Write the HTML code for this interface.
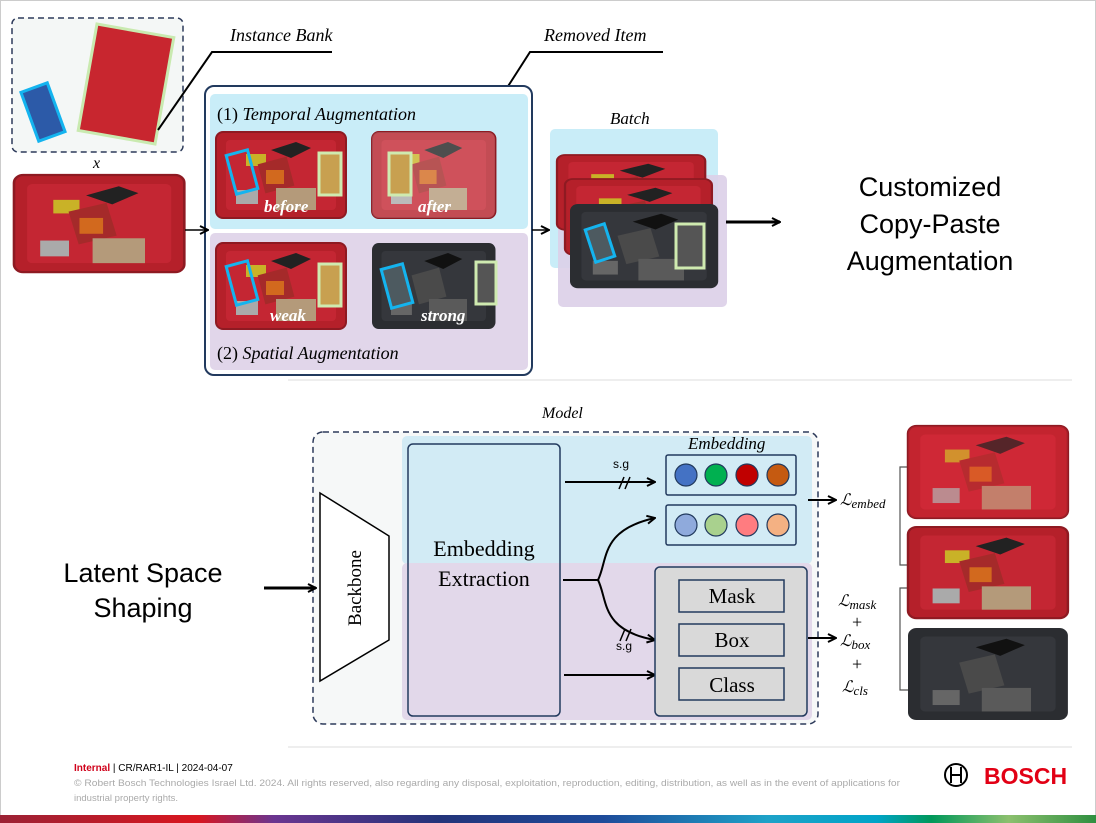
<!DOCTYPE html>
<html><head><meta charset="utf-8"><style>
html,body{margin:0;padding:0;background:#fff}
svg{display:block}
.s{font-family:"Liberation Serif",serif}
.i{font-family:"Liberation Serif",serif;font-style:italic}
.a{font-family:"Liberation Sans",sans-serif}
</style></head><body>
<svg width="1096" height="823" viewBox="0 0 1096 823" xmlns="http://www.w3.org/2000/svg">
<defs>
<marker id="ar" markerWidth="10" markerHeight="10" refX="9" refY="5" orient="auto" markerUnits="userSpaceOnUse"><path d="M1,1 L9,5 L1,9" fill="none" stroke="#000" stroke-width="2"/></marker>
<g id="tray">
<rect x="0" y="0" width="130" height="86" rx="7" fill="#b5202a"/>
<rect x="10" y="8" width="110" height="70" rx="4" fill="#c42633"/>
<rect x="0" y="0" width="130" height="86" rx="7" fill="none" stroke="#8e1a22" stroke-width="2"/>
<path d="M55,18 l25,-8 l15,6 l-20,10z" fill="#222"/>
<rect x="30" y="22" width="20" height="12" fill="#c9b227"/>
<rect x="45" y="28" width="30" height="30" fill="#a52a2a" transform="rotate(-15 60 43)"/>
<rect x="50" y="38" width="18" height="14" fill="#d2691e"/>
<rect x="20" y="58" width="22" height="14" fill="#aaa"/>
<rect x="60" y="56" width="40" height="22" fill="#b49a7a"/>
</g>
<g id="trayd">
<rect x="0" y="0" width="130" height="86" rx="7" fill="#2b2d31"/>
<rect x="10" y="8" width="110" height="70" rx="4" fill="#35373c"/>
<path d="M55,18 l25,-8 l15,6 l-20,10z" fill="#111"/>
<rect x="45" y="28" width="30" height="30" fill="#4a4a4a" transform="rotate(-15 60 43)"/>
<rect x="20" y="58" width="22" height="14" fill="#666"/>
<rect x="60" y="56" width="40" height="22" fill="#5a5a5a"/>
</g>
</defs>
<rect x="0.5" y="0.5" width="1095" height="822" fill="none" stroke="#ccc"/>

<rect x="12" y="18" width="171" height="134" rx="6" fill="#f4f7f6" stroke="#2d3a5a" stroke-width="1.5" stroke-dasharray="6,4"/>
<rect x="29" y="86" width="28" height="52" fill="#2c5aa8" stroke="#14b4ef" stroke-width="3" transform="rotate(-20 43 112)"/>
<rect x="87" y="30" width="78" height="108" fill="#c8262f" stroke="#c9eab0" stroke-width="3" transform="rotate(10 126 84)"/>
<text x="230" y="41" class="i" font-size="18">Instance Bank</text>
<path d="M158,130 L212,52 L332,52" fill="none" stroke="#000" stroke-width="2"/>
<text x="544" y="41" class="i" font-size="18">Removed Item</text>
<path d="M480,130 L530,52 L663,52" fill="none" stroke="#000" stroke-width="2"/>
<text x="93" y="168" class="i" font-size="16">x</text>
<use href="#tray" transform="translate(14,175) scale(1.31,1.13)"/>

<rect x="205" y="86" width="327" height="289" rx="9" fill="#fff" stroke="#223a5e" stroke-width="2"/>
<rect x="210" y="94" width="318" height="135" rx="5" fill="#c9edf8"/>
<rect x="210" y="233" width="318" height="137" rx="5" fill="#e1d6ea"/>
<text x="217" y="120" class="s" font-size="18">(1)  <tspan font-style="italic">Temporal Augmentation</tspan></text>
<text x="217" y="359" class="s" font-size="18">(2)  <tspan font-style="italic">Spatial Augmentation</tspan></text>
<use href="#tray" transform="translate(216,132)"/>
<use href="#tray" transform="translate(372,132) scale(0.95,1)"/>
<rect x="372" y="132" width="123" height="86" rx="7" fill="#fff" opacity="0.2"/>
<use href="#tray" transform="translate(216,243)"/>
<use href="#trayd" transform="translate(372,243) scale(0.95,1)"/>
<rect x="231" y="152" width="22" height="40" fill="none" stroke="#14b4ef" stroke-width="3" transform="rotate(-15 242 172)"/>
<rect x="319" y="153" width="22" height="42" fill="#c8a050" stroke="#cfeab0" stroke-width="3"/>
<rect x="389" y="153" width="22" height="42" fill="#c8a050" stroke="#cfeab0" stroke-width="3"/>
<rect x="231" y="263" width="22" height="40" fill="none" stroke="#14b4ef" stroke-width="3" transform="rotate(-15 242 283)"/>
<rect x="319" y="264" width="22" height="42" fill="#c8a050" stroke="#cfeab0" stroke-width="3"/>
<rect x="386" y="266" width="22" height="40" fill="#4d5a60" stroke="#14b4ef" stroke-width="3" transform="rotate(-15 397 286)"/>
<rect x="476" y="262" width="20" height="42" fill="#555" stroke="#cfeab0" stroke-width="3"/>
<g class="i" font-size="17" font-weight="bold" fill="#fff">
<text x="264" y="212">before</text><text x="418" y="212">after</text>
<text x="270" y="321">weak</text><text x="421" y="321">strong</text></g>
<line x1="185" y1="230" x2="208" y2="230" stroke="#000" stroke-width="1.5" marker-end="url(#ar)"/>
<line x1="532" y1="230" x2="549" y2="230" stroke="#000" stroke-width="1.5" marker-end="url(#ar)"/>

<text x="610" y="124" class="i" font-size="17">Batch</text>
<rect x="550" y="129" width="168" height="139" rx="5" fill="#c9edf8"/>
<rect x="558" y="175" width="169" height="132" rx="5" fill="#dccfe8" opacity="0.9"/>
<use href="#tray" transform="translate(557,155) scale(1.14,0.87)"/>
<use href="#tray" transform="translate(565,179) scale(1.13,0.88)"/>
<use href="#trayd" transform="translate(570,204) scale(1.14,0.98)"/>
<rect x="590" y="226" width="20" height="34" fill="#4d5a60" stroke="#14b4ef" stroke-width="3" transform="rotate(-18 600 243)"/>
<rect x="676" y="224" width="28" height="44" fill="#555" stroke="#cfeab0" stroke-width="3"/>
<line x1="726" y1="222" x2="780" y2="222" stroke="#000" stroke-width="3" marker-end="url(#ar)"/>
<g class="a" font-size="27" text-anchor="middle"><text x="930" y="196">Customized</text><text x="930" y="233">Copy-Paste</text><text x="930" y="270">Augmentation</text></g>

<line x1="288" y1="380" x2="1072" y2="380" stroke="#ddd"/>

<text x="542" y="418" class="i" font-size="16">Model</text>
<rect x="313" y="432" width="505" height="292" rx="10" fill="#f6f8f8" stroke="#2d3a5a" stroke-width="1.5" stroke-dasharray="6,4"/>
<rect x="402" y="436" width="410" height="128" rx="5" fill="#d2ebf5"/>
<rect x="402" y="563" width="410" height="157" rx="5" fill="#e2d8ea"/>
<polygon points="320,493 389,536 389,640 320,681" fill="#fff" stroke="#000" stroke-width="1.5"/>
<text transform="translate(361,588) rotate(-90)" class="s" font-size="19" text-anchor="middle">Backbone</text>
<line x1="264" y1="588" x2="316" y2="588" stroke="#000" stroke-width="3" marker-end="url(#ar)"/>
<rect x="408" y="444" width="152" height="272" rx="5" fill="none" stroke="#223a5e" stroke-width="1.5"/>
<g class="s" font-size="22" text-anchor="middle"><text x="484" y="556">Embedding</text><text x="484" y="586">Extraction</text></g>
<text x="688" y="449" class="i" font-size="17">Embedding</text>
<rect x="666" y="455" width="130" height="40" rx="2" fill="none" stroke="#223a5e" stroke-width="1.5"/>
<rect x="666" y="505" width="130" height="40" rx="2" fill="none" stroke="#223a5e" stroke-width="1.5"/>
<g stroke="#223a5e" stroke-width="1.2">
<circle cx="686" cy="475" r="11" fill="#4472c4"/><circle cx="716" cy="475" r="11" fill="#00b050"/><circle cx="747" cy="475" r="11" fill="#c00000"/><circle cx="778" cy="475" r="11" fill="#c55a11"/>
<circle cx="686" cy="525" r="11" fill="#8faadc"/><circle cx="716" cy="525" r="11" fill="#a9d18e"/><circle cx="747" cy="525" r="11" fill="#ff7c80"/><circle cx="778" cy="525" r="11" fill="#f4b183"/></g>
<g stroke="#000" stroke-width="2" fill="none">
<line x1="565" y1="482" x2="655" y2="482" marker-end="url(#ar)"/>
<path d="M619,489 l5,-12 M625,489 l5,-12" stroke-width="1.5"/>
<path d="M563,580 L598,580 C608,560 600,530 655,518" marker-end="url(#ar)"/>
<path d="M598,580 C608,600 600,630 655,640" marker-end="url(#ar)"/>
<path d="M620,641 l5,-12 M626,641 l5,-12" stroke-width="1.5"/>
<line x1="564" y1="675" x2="655" y2="675" marker-end="url(#ar)"/>
<line x1="808" y1="500" x2="836" y2="500" marker-end="url(#ar)"/>
<line x1="808" y1="638" x2="836" y2="638" marker-end="url(#ar)"/>
</g>
<g class="a" font-size="12"><text x="613" y="468">s.g</text><text x="616" y="650">s.g</text></g>
<rect x="655" y="567" width="152" height="149" rx="5" fill="#d9d9d9" stroke="#223a5e" stroke-width="1.5"/>
<g fill="none" stroke="#223a5e" stroke-width="1.5"><rect x="679" y="580" width="105" height="32"/><rect x="679" y="624" width="105" height="32"/><rect x="679" y="668" width="105" height="32"/></g>
<g class="s" font-size="21" text-anchor="middle"><text x="732" y="603">Mask</text><text x="732" y="647">Box</text><text x="732" y="692">Class</text></g>
<g class="i" font-size="16"><text x="840" y="505">ℒ<tspan font-size="13" dy="3">embed</tspan></text>
<text x="838" y="606">ℒ<tspan font-size="13" dy="3">mask</tspan></text>
<text x="852" y="628" font-style="normal" font-size="18">+</text>
<text x="840" y="646">ℒ<tspan font-size="13" dy="3">box</tspan></text>
<text x="852" y="670" font-style="normal" font-size="18">+</text>
<text x="842" y="692">ℒ<tspan font-size="13" dy="3">cls</tspan></text></g>
<path d="M908,467 H900 V565 H908 M908,588 H900 V690 H908" fill="none" stroke="#555" stroke-width="1.2"/>
<use href="#tray" transform="translate(908,426) scale(1.23,1.07)"/>
<use href="#tray" transform="translate(908,527) scale(1.23,1.06)"/>
<use href="#trayd" transform="translate(908,628) scale(1.23,1.07)"/>
<rect x="908" y="426" width="160" height="92" rx="8" fill="#f03040" opacity="0.25"/>
<g class="a" font-size="27" text-anchor="middle"><text x="143" y="582">Latent Space</text><text x="143" y="617">Shaping</text></g>

<line x1="288" y1="747" x2="1072" y2="747" stroke="#ddd"/>
<text x="74" y="771" class="a" font-size="10"><tspan fill="#d0021b" font-weight="bold">Internal</tspan> | CR/RAR1-IL | 2024-04-07</text>
<text x="74" y="786" class="a" font-size="9.5" fill="#aaa" textLength="826" lengthAdjust="spacingAndGlyphs">© Robert Bosch Technologies Israel Ltd. 2024. All rights reserved, also regarding any disposal, exploitation, reproduction, editing, distribution, as well as in the event of applications for</text>
<text x="74" y="801" class="a" font-size="9.5" fill="#aaa">industrial property rights.</text>
<circle cx="956" cy="775" r="11" fill="none" stroke="#000" stroke-width="2"/>
<path d="M951,767 v16 M961,767 v16 M951,775 h10" stroke="#000" stroke-width="2"/>
<text x="984" y="784" class="a" font-size="23" font-weight="bold" fill="#e20015">BOSCH</text>
<defs><linearGradient id="bar" x1="0" x2="1">
<stop offset="0" stop-color="#9b2235"/><stop offset="0.18" stop-color="#d9161f"/><stop offset="0.25" stop-color="#6a3590"/><stop offset="0.4" stop-color="#23347a"/><stop offset="0.55" stop-color="#1e4b9a"/><stop offset="0.7" stop-color="#1ea2c8"/><stop offset="0.8" stop-color="#00a4c8"/><stop offset="0.85" stop-color="#00985a"/><stop offset="0.92" stop-color="#8cc06e"/><stop offset="1" stop-color="#2f8f40"/></linearGradient></defs>
<rect x="0" y="815" width="1096" height="8" fill="url(#bar)"/>
</svg>
</body></html>
